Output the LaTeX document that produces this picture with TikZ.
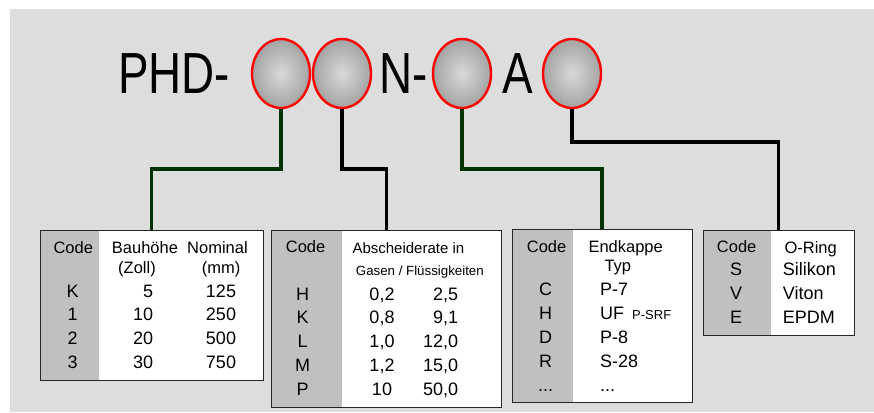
\documentclass[tikz,border=0pt]{standalone}
\usepackage{fontspec}
\usepackage{graphicx}
\setmainfont{Liberation Sans}
\usetikzlibrary{shapes.geometric}
\definecolor{bggray}{HTML}{DDDDDD}
\definecolor{colgray}{HTML}{C0C0C0}
\definecolor{dgreen}{HTML}{003300}
\definecolor{ovred}{HTML}{FF0000}
\newcommand{\tdots}{...}
\begin{document}
\begin{tikzpicture}[x=1pt,y=-1pt,
  oval/.style={ellipse, draw=ovred, line width=2.4pt, minimum width=58pt, minimum height=69pt, inner sep=0pt, inner color=black!15, outer color=black!36},
  titletext/.style={inner sep=0pt, anchor=base west, font=\fontsize{58}{60}\selectfont},
  gconn/.style={draw=dgreen, line width=3.3pt},
  bconn/.style={draw=black, line width=3.3pt},
  tbl/.style={rectangle, draw=black!85, line width=1pt, fill=white, inner sep=0pt,
    path picture={\fill[colgray] (path picture bounding box.north west) rectangle ([xshift=#1]path picture bounding box.south west);}},
  hdr/.style={inner sep=0pt, font=\fontsize{16.5}{18}\selectfont},
  dat/.style={inner sep=0pt, font=\fontsize{18}{20}\selectfont}
]
\useasboundingbox (0,0) rectangle (874,412);
\fill[bggray] (10,9) rectangle (874,412);

% title
\node[titletext] (tphd) at (118,93) {\scalebox{0.79}[1]{PHD-}};
\node[titletext] (tn) at (379.5,93) {\scalebox{0.79}[1]{N-}};
\node[titletext] (ta) at (502,93) {\scalebox{0.79}[1]{A}};

% tables
\node[tbl=58.5pt, minimum width=223pt, minimum height=150pt] (t1) at (151.5,305) {};
\node[tbl=70pt, minimum width=230.3pt, minimum height=177.3pt] (t2) at (386.8,319.3) {};
\node[tbl=60.7pt, minimum width=180pt, minimum height=172.7pt] (t3) at (602,316.3) {};
\node[tbl=68pt, minimum width=151pt, minimum height=105pt] (t4) at (778.5,282.5) {};

% ovals
\node[oval] (e1) at (281,73.5) {};
\node[oval] (e2) at (342,73.5) {};
\node[oval] (e3) at (462,73.5) {};
\node[oval] (e4) at (572,73.5) {};

% connectors
\coordinate (h1) at (0,169);
\coordinate (h4) at (0,142);
\draw[gconn] (e1.south) -- (e1.south |- h1) -| (t1.north);
\draw[bconn] (e2.south) -- (e2.south |- h1) -| (t2.north);
\draw[gconn] (e3.south) -- (e3.south |- h1) -| (t3.north);
\draw[bconn] (e4.south) -- (e4.south |- h4) -| (t4.north);

% table 1
\node[hdr, anchor=base west] (t1h1) at (53.3,253.3) {Code};
\node[hdr, anchor=base west] (t1h2) at (111.7,253.3) {Bauhöhe};
\node[hdr, anchor=base west] (t1h3) at (187,253.3) {Nominal};
\node[hdr, anchor=base west] (t1h4) at (118,273) {(Zoll)};
\node[hdr, anchor=base west] (t1h5) at (201.7,273) {(mm)};
\foreach \c/\a/\b [count=\i] in {K/5/125,1/10/250,2/20/500,3/30/750} {
  \node[dat, anchor=base] (t1c\i) at (72.7,{297.3+23.6*(\i-1)}) {\c};
  \node[dat, anchor=base east] (t1a\i) at (153.3,{297.3+23.6*(\i-1)}) {\a};
  \node[dat, anchor=base] (t1b\i) at (221,{297.3+23.6*(\i-1)}) {\b};
}

% table 2
\node[hdr, anchor=base west] (t2h1) at (285.7,252.7) {Code};
\node[hdr, anchor=base west, font=\fontsize{15}{17}\selectfont] (t2h2) at (352.3,253) {Abscheiderate in};
\node[hdr, anchor=base west, font=\fontsize{13.3}{15}\selectfont] (t2h3) at (355.7,275) {Gasen / Flüssigkeiten};
\foreach \c/\a/\b [count=\i] in {H/{0,2}/{2,5},K/{0,8}/{9,1},L/{1,0}/{12,0},M/{1,2}/{15,0},P/10/{50,0}} {
  \node[dat, anchor=base] (t2c\i) at (302.7,{300+23.75*(\i-1)}) {\c};
  \node[dat, anchor=base] (t2a\i) at (382,{300+23.75*(\i-1)}) {\a};
  \node[dat, anchor=base east] (t2b\i) at (458.3,{300+23.75*(\i-1)}) {\b};
}

% table 3
\node[hdr, anchor=base west] (t3h1) at (526.7,252.3) {Code};
\node[hdr, anchor=base west] (t3h2) at (588.3,252.3) {Endkappe};
\node[hdr, anchor=base west] (t3h3) at (604.3,271.7) {Typ};
\foreach \c/\a [count=\i] in {C/P-7,H/{UF\hspace{8pt}{\fontsize{13}{14}\selectfont P-SRF}},D/P-8,R/S-28,\tdots/\tdots} {
  \node[dat, anchor=base] (t3c\i) at (545.7,{295+24.2*(\i-1)}) {\c};
  \node[dat, anchor=base west] (t3a\i) at (600,{295+24.2*(\i-1)}) {\a};
}

% table 4
\node[hdr, anchor=base west] (t4h1) at (716.7,252.7) {Code};
\node[hdr, anchor=base west] (t4h2) at (784.3,253) {O-Ring};
\foreach \c/\a [count=\i] in {S/Silikon,V/Viton,E/EPDM} {
  \node[dat, anchor=base] (t4c\i) at (736,{275+24.2*(\i-1)}) {\c};
  \node[dat, anchor=base west] (t4a\i) at (782.7,{275+24.2*(\i-1)}) {\a};
}
\end{tikzpicture}
\end{document}
